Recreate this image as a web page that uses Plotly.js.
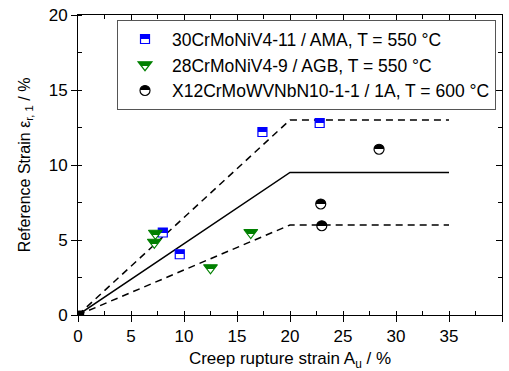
<!DOCTYPE html>
<html>
<head>
<meta charset="utf-8">
<script src="https://cdn.plot.ly/plotly-3.0.1.min.js"></script>
<style>html,body{margin:0;padding:0;background:#fff;}#chart{width:509px;height:371px;}</style>
</head>
<body>
<div id="chart"></div>
<script>
// ---- data ----
const amaX = [8.0, 9.6, 17.4, 22.8];
const amaY = [5.5, 4.05, 12.2, 12.8];
const agbX = [7.3, 7.2, 12.5, 16.3];
const agbY = [5.45, 4.85, 3.15, 5.5];
const oneAX = [22.9, 23.0, 28.4];
const oneAY = [7.4, 5.95, 11.05];
const originX = [0.3];
const originY = [0.1];
const boundX = [0, 20, 35];
const meanY = [0, 9.5, 9.5];
const upperY = [0, 13, 13];
const lowerY = [0, 6, 6];
const names = ['30CrMoNiV4-11 / AMA, T = 550 °C', '28CrMoNiV4-9 / AGB, T = 550 °C', 'X12CrMoWVNbN10-1-1 / 1A, T = 600 °C'];

const FONT = 'Liberation Sans, Arial, sans-serif';
const dashPat = '7px,5px';

const traces = [
  {x: boundX, y: upperY, mode: 'lines', line: {color: '#000', width: 1.5, dash: dashPat}, showlegend: false, hoverinfo: 'skip'},
  {x: boundX, y: meanY, mode: 'lines', line: {color: '#000', width: 1.5}, showlegend: false, hoverinfo: 'skip'},
  {x: boundX, y: lowerY, mode: 'lines', line: {color: '#000', width: 1.5, dash: dashPat}, showlegend: false, hoverinfo: 'skip'},
  {x: originX, y: originY, mode: 'markers', marker: {symbol: 'square', size: 6, color: '#000'}, showlegend: false},
  {x: amaX, y: amaY, mode: 'markers', name: names[0],
   marker: {symbol: 'square', size: 9, color: '#0000ff', line: {color: '#0000ff', width: 1.2}, gradient: {type: 'vertical', color: '#ffffff'}}},
  {x: agbX, y: agbY, mode: 'markers', name: names[1],
   marker: {symbol: 'triangle-down', size: 12, color: '#008000', line: {color: '#008000', width: 1.2}, gradient: {type: 'vertical', color: '#ffffff'}}},
  {x: oneAX, y: oneAY, mode: 'markers', name: names[2],
   marker: {symbol: 'circle', size: 10, color: '#000000', line: {color: '#000000', width: 1.2}, gradient: {type: 'vertical', color: '#ffffff'}}},
  {x: [], y: [], xaxis: 'x2', yaxis: 'y2', showlegend: false, hoverinfo: 'skip'}
];

const axisBase = {
  showgrid: false, zeroline: false, showline: true, linecolor: '#000', linewidth: 1,
  ticks: 'outside', ticklen: 6, tickwidth: 1, tickcolor: '#000', dtick: 5, tick0: 0,
  tickfont: {family: FONT, size: 17, color: '#000'},
  minor: {ticks: 'inside', ticklen: 4, tickwidth: 1, tickcolor: '#000', dtick: 2.5, showgrid: false},
  automargin: false, autorange: false
};

const layout = {
  width: 509, height: 371,
  margin: {l: 78, r: 7, t: 15, b: 56},
  paper_bgcolor: '#fff', plot_bgcolor: '#fff',
  font: {family: FONT, size: 17, color: '#000'},
  showlegend: true,
  legend: {x: 0.092, y: 0.983, xanchor: 'left', yanchor: 'top', bgcolor: '#fff', bordercolor: '#555', borderwidth: 1,
           font: {family: FONT, size: 17.5, color: '#000'}, itemwidth: 44, tracegroupgap: 0},
  xaxis: Object.assign({}, axisBase, {range: [0, 40],
    title: {text: 'Creep rupture strain A<sub>u</sub> / %', font: {family: FONT, size: 17, color: '#000'}, standoff: 8}}),
  yaxis: Object.assign({}, axisBase, {range: [0, 20],
    title: {text: 'Reference Strain ε<sub>r, 1</sub> / %', font: {family: FONT, size: 16, color: '#000'}, standoff: 14}}),
  xaxis2: Object.assign({}, axisBase, {range: [0, 40], overlaying: 'x', side: 'top', anchor: 'y2', ticks: 'inside', showticklabels: false,
    minor: {ticks: 'inside', ticklen: 4, tickwidth: 1, tickcolor: '#000', dtick: 2.5}}),
  yaxis2: Object.assign({}, axisBase, {range: [0, 20], overlaying: 'y', side: 'right', anchor: 'x2', ticks: 'inside', showticklabels: false,
    minor: {ticks: 'inside', ticklen: 4, tickwidth: 1, tickcolor: '#000', dtick: 2.5}})
};

function sharpenGradients() {
  document.querySelectorAll('#chart linearGradient').forEach(function (g) {
    const stops = g.querySelectorAll('stop');
    if (stops.length >= 2) {
      stops[0].setAttribute('offset', '50%');
      stops[stops.length - 1].setAttribute('offset', '50%');
    }
  });
}

const gd = document.getElementById('chart');
Plotly.newPlot(gd, traces, layout, {staticPlot: true, displayModeBar: false}).then(function () {
  sharpenGradients();
  gd.on && gd.on('plotly_afterplot', sharpenGradients);
});
</script>
</body>
</html>
